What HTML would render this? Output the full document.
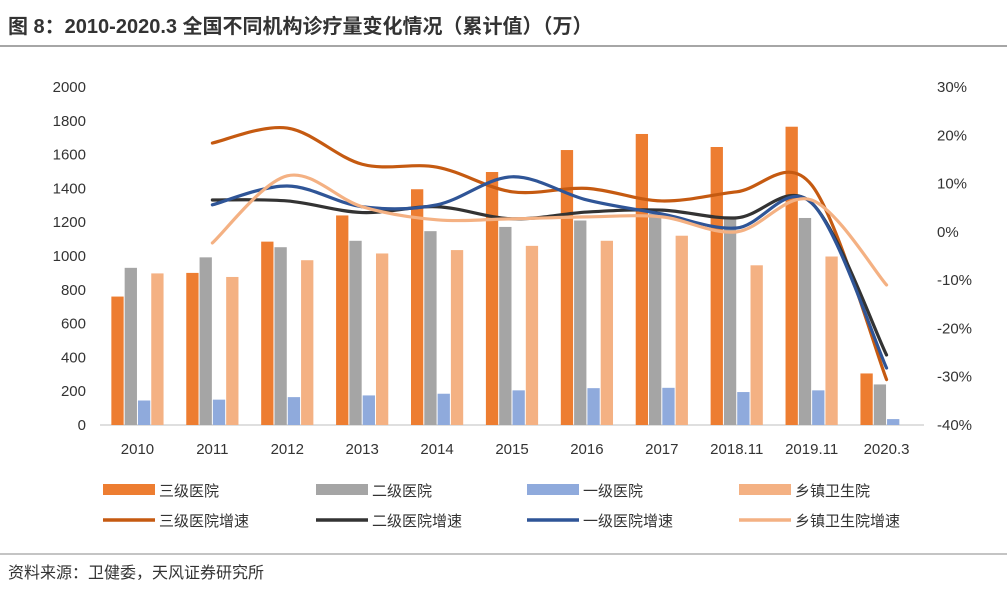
<!DOCTYPE html>
<html><head><meta charset="utf-8">
<style>
body{margin:0;background:#fff;width:1007px;height:584px;overflow:hidden;font-family:"Liberation Sans","Noto Sans CJK SC",sans-serif;}
</style></head>
<body>
<svg id="c" width="1007" height="584" xmlns="http://www.w3.org/2000/svg">
<text x="8" y="33" font-size="20" font-weight="bold" fill="#333" font-family="Liberation Sans, Noto Sans CJK SC, sans-serif">图 8：2010-2020.3 全国不同机构诊疗量变化情况（累计值）（万）</text>
<line x1="0" y1="46" x2="1007" y2="46" stroke="#888" stroke-width="1.5"/>
<line x1="0" y1="554" x2="1007" y2="554" stroke="#888" stroke-width="1"/>
<text x="8" y="578" font-size="16" fill="#333" font-family="Liberation Sans, Noto Sans CJK SC, sans-serif">资料来源：卫健委，天风证券研究所</text>
<g id="plot"></g>
<g id="legend"></g>
</svg>
<script>
const categories=["2010","2011","2012","2013","2014","2015","2016","2017","2018.11","2019.11","2020.3"];
const tier3=[760,900,1085,1240,1395,1497,1627,1722,1645,1765,305];
const tier2=[930,992,1052,1090,1147,1172,1210,1250,1220,1225,240];
const tier1=[145,150,165,175,185,205,218,220,195,205,35];
const township=[897,876,975,1015,1035,1060,1090,1120,945,997,0];
const tier3Growth=[null,18.4,21.5,14,13.4,8.3,9,6.4,8.3,9.7,-30.6];
const tier2Growth=[null,6.6,6.4,4,5.2,2.7,4.1,4.5,2.9,6,-25.5];
const tier1Growth=[null,5.6,9.5,5.2,5.6,11.4,6.6,3.7,0.8,6,-28.2];
const townshipGrowth=[null,-2.3,11.6,5.2,2.5,2.7,3.1,3.1,0,6.6,-11];
const leftTicks=[0,200,400,600,800,1000,1200,1400,1600,1800,2000];
const rightTicks=[-40,-30,-20,-10,0,10,20,30];

const NS="http://www.w3.org/2000/svg";
const X0=100,X1=924,Y0=425,Y1=87;
const bw=(X1-X0)/categories.length;
const yL=v=>Y0-(v/2000)*(Y0-Y1);
const yR=p=>Y0-((p+40)/70)*(Y0-Y1);
const xC=i=>X0+bw*(i+0.5);
const plot=document.getElementById('plot');
const legend=document.getElementById('legend');
function mk(tag,attrs,parent,text){const e=document.createElementNS(NS,tag);for(const k in attrs)e.setAttribute(k,attrs[k]);if(text!==undefined)e.textContent=text;parent.appendChild(e);return e;}

const ax=mk('line',{x1:X0,y1:Y0,x2:X1,y2:Y0,stroke:'#bfbfbf'},plot);


leftTicks.forEach(t=>{const e=mk('text',{x:86,y:yL(t)+5,'font-size':15,'text-anchor':'end',fill:'#333'},plot,String(t));

});
rightTicks.forEach(t=>{const e=mk('text',{x:937,y:yR(t)+5,'font-size':15,fill:'#333'},plot,t+'%');

});
categories.forEach((c,i)=>{const e=mk('text',{x:xC(i),y:454,'font-size':15,'text-anchor':'middle',fill:'#333'},plot,c);

});

const barSeries=[[tier3,'#ED7D31','bar-tier3'],[tier2,'#A5A5A5','bar-tier2'],[tier1,'#8FAADC','bar-tier1'],[township,'#F4B183','bar-township']];
const w=13.3;
barSeries.forEach((s,k)=>{s[0].forEach((v,i)=>{if(!v)return;const x=xC(i)-2*w+k*w+0.5;
const r=mk('rect',{x:x,y:yL(v),width:w-1,height:Y0-yL(v),fill:s[1]},plot);

});});

function smooth(pts){let d=`M${pts[0][0]},${pts[0][1]}`;for(let i=0;i<pts.length-1;i++){const p0=pts[i-1]||pts[i],p1=pts[i],p2=pts[i+1],p3=pts[i+2]||p2;const t=6;
d+=` C${p1[0]+(p2[0]-p0[0])/t},${p1[1]+(p2[1]-p0[1])/t} ${p2[0]-(p3[0]-p1[0])/t},${p2[1]-(p3[1]-p1[1])/t} ${p2[0]},${p2[1]}`;}return d;}
const lineSeries=[[tier3Growth,'#C55A11','line-tier3-growth'],[tier2Growth,'#333333','line-tier2-growth'],[tier1Growth,'#2F5597','line-tier1-growth'],[townshipGrowth,'#F4B183','line-township-growth']];
lineSeries.forEach(s=>{const pts=[];s[0].forEach((v,i)=>{if(v!==null)pts.push([xC(i),yR(v)]);});
const p=mk('path',{d:smooth(pts),fill:'none',stroke:s[1],'stroke-width':3.2,'stroke-linecap':'round'},plot);

});

const legendItems=[['三级医院','#ED7D31','bar'],['二级医院','#A5A5A5','bar'],['一级医院','#8FAADC','bar'],['乡镇卫生院','#F4B183','bar'],
['三级医院增速','#C55A11','line'],['二级医院增速','#333333','line'],['一级医院增速','#2F5597','line'],['乡镇卫生院增速','#F4B183','line']];
const lx=[103,316,527,739];
legendItems.forEach((it,i)=>{const x=lx[i%4],y=i<4?490:520;
const g=mk('g',{},legend);


if(it[2]==='bar')mk('rect',{x:x,y:y-6,width:52,height:11,fill:it[1]},g);
else mk('line',{x1:x,y1:y,x2:x+52,y2:y,stroke:it[1],'stroke-width':3.5},g);
mk('text',{x:x+56,y:y+6,'font-size':15,fill:'#333'},g,it[0]);});
</script>
</body></html>
